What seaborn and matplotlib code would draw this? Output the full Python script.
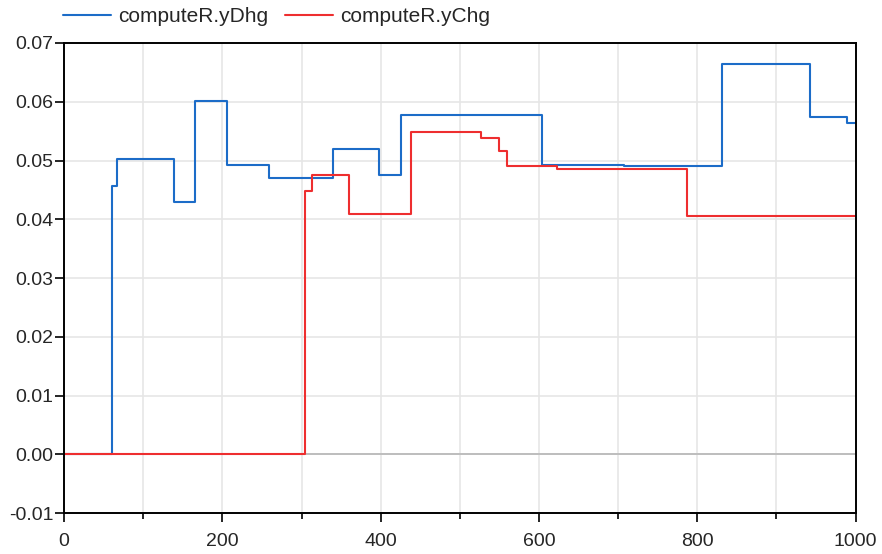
import numpy as np
import pandas as pd
import matplotlib
matplotlib.use('Agg')
import matplotlib.pyplot as plt
import seaborn as sns

# step signals (time, value), held until the next time
t_dhg = [0, 60.3, 66.6, 139.5, 165.6, 205.6, 258.7, 339.6, 397.8, 426, 604, 708, 831.5, 942, 988.6, 1000]
y_dhg = [0, 0.0457, 0.0503, 0.0430, 0.0602, 0.0493, 0.0471, 0.0520, 0.0476, 0.0577, 0.0493, 0.0490,
         0.0664, 0.0574, 0.0563, 0.0563]

t_chg = [0, 305, 313, 359.9, 438.7, 527, 549.9, 560, 622.8, 786.7, 1000]
y_chg = [0, 0.0449, 0.0476, 0.0409, 0.0548, 0.0539, 0.0517, 0.0490, 0.0485, 0.0405, 0.0405]

names = ['computeR.yDhg', 'computeR.yChg']
colors = ['#1c6cc8', '#ee2e2f']


def build_frame():
    ''' long table for seaborn '''
    df1 = pd.DataFrame({'time': t_dhg, 'value': y_dhg, 'signal': names[0]})
    df2 = pd.DataFrame({'time': t_chg, 'value': y_chg, 'signal': names[1]})
    return pd.concat([df1, df2], ignore_index=True)


def plot_signals(df):
    sns.set_style('white')
    plt.rcParams['font.family'] = ['Liberation Sans', 'DejaVu Sans']
    plt.rcParams['axes.unicode_minus'] = False

    fig = plt.figure(figsize=(8.82, 5.54), dpi=100)
    ax = fig.add_axes([0.0726, 0.0735, 0.8975, 0.849])

    # grid every 100 / 0.01, darker zero line
    for x in np.arange(100, 1000, 100):
        ax.axvline(x, color='#e6e6e6', lw=1.2, zorder=0)
    for y in np.arange(-0.01, 0.0701, 0.01):
        ax.axhline(y, color='#e6e6e6', lw=1.2, zorder=0)
    ax.axhline(0, color='#bdbdbd', lw=1.4, zorder=0)

    sns.lineplot(data=df, x='time', y='value', hue='signal', hue_order=names,
                 palette=colors, drawstyle='steps-post', linewidth=1.5,
                 estimator=None, sort=False, ax=ax)

    ax.set_xlim(0, 1000)
    ax.set_ylim(-0.01, 0.07)
    ax.set_xticks(np.arange(0, 1001, 200))
    ax.set_xticks(np.arange(100, 1000, 200), minor=True)
    ax.set_yticks(np.arange(-0.01, 0.0701, 0.01))
    ax.set_yticklabels([f'{v:.2f}' for v in np.arange(-0.01, 0.0701, 0.01)])
    ax.set_xlabel('')
    ax.set_ylabel('')
    ax.tick_params(axis='both', which='major', direction='out', length=6.5, width=1.2,
                   labelsize=14, color='black', bottom=True, left=True)
    ax.tick_params(axis='y', which='major', pad=1)
    ax.tick_params(axis='x', which='major', pad=8)
    ax.tick_params(axis='x', which='minor', direction='out', length=4.5, width=1.2,
                   color='black', bottom=True)
    for sp in ax.spines.values():
        sp.set_color('black')
        sp.set_linewidth(1.4)

    handles, labels = ax.get_legend_handles_labels()
    ax.get_legend().remove()
    fig.legend(handles, labels, loc='center left', bbox_to_anchor=(63 / 882, 1 - 17 / 554), ncol=2,
               frameon=False, fontsize=15, handlelength=2.3, handletextpad=0.34,
               columnspacing=0.8, borderaxespad=0, borderpad=0)

    fig.savefig('out.png', dpi=100)


if __name__ == '__main__':
    plot_signals(build_frame())
